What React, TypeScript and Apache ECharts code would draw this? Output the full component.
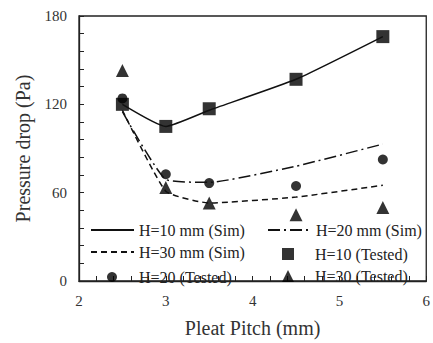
import React, { useEffect, useRef } from 'react';
import * as echarts from 'echarts';

const pitch = [2.5, 3, 3.5, 4.5, 5.5];
const sim10 = [120, 105, 116, 137, 166];
const sim20 = [115, 69, 67, 78, 93];
const sim30 = [116, 61, 53, 57, 65];
const test10 = [120, 105, 117, 137, 166];
const test20 = [124, 72.5, 66.5, 64.5, 82.5];
const test30 = [143, 63.5, 53, 45, 50];

const names = [
  'H=10 mm (Sim)',
  'H=20 mm (Sim)',
  'H=30 mm (Sim)',
  'H=10 (Tested)',
  'H=20 (Tested)',
  'H=30 (Tested)',
];

const FONT = '"Liberation Serif", "DejaVu Serif", serif';
const INK = '#111';

const pts = (ys: number[]) => pitch.map((x, i) => [x, ys[i]]);

export default function App() {
  const ref = useRef<HTMLDivElement>(null);
  useEffect(() => {
    if (!ref.current) return;
    const chart = echarts.init(ref.current, undefined, { renderer: 'svg' });
    const lineLegend = (name: string, left: number, top: number) => ({
      data: [name],
      left,
      top,
      padding: 0,
      itemWidth: 43,
      itemHeight: 14,
      itemGap: 0,
      itemStyle: { color: 'rgba(0,0,0,0)', borderColor: 'rgba(0,0,0,0)', borderWidth: 0 },
      textStyle: { fontFamily: FONT, fontSize: 16, color: '#222' },
      selectedMode: false,
    });
    const symLegend = (name: string, cx: number, top: number, size: number, textX: number) => ({
      data: [name],
      left: cx - size / 2,
      top,
      padding: 0,
      itemWidth: size,
      itemHeight: size,
      itemGap: 0,
      textStyle: {
        fontFamily: FONT,
        fontSize: 16,
        color: '#222',
        padding: [0, 0, 0, textX - (cx + size / 2 + 5)],
      },
      selectedMode: false,
    });
    const axisCommon = {
      axisLine: { show: true, lineStyle: { color: '#222', width: 1.3 } },
      axisTick: { show: true, inside: true, length: 5, lineStyle: { color: '#222', width: 1 } },
      minorTick: { show: true, splitNumber: 5, length: 5, lineStyle: { color: '#222', width: 1 } },
      splitLine: { show: false },
      minorSplitLine: { show: false },
      axisLabel: { fontFamily: FONT, fontSize: 15, color: '#333', margin: 12 },
      nameLocation: 'middle' as const,
      nameTextStyle: { fontFamily: FONT, fontSize: 20, color: '#333' },
    };
    chart.setOption({
      animation: false,
      backgroundColor: '#fff',
      grid: {
        left: 79,
        right: 6,
        top: 16,
        bottom: 58,
        show: true,
        borderColor: '#222',
        borderWidth: 1.3,
        backgroundColor: 'transparent',
      },
      legend: [
        lineLegend(names[0], 90, 222),
        lineLegend(names[1], 267, 222),
        lineLegend(names[2], 90, 244),
        symLegend(names[3], 288, 246, 12, 315),
        symLegend(names[4], 112, 269, 10, 139),
        symLegend(names[5], 288, 268, 12, 315),
      ],
      xAxis: {
        type: 'value',
        min: 2,
        max: 6,
        interval: 1,
        name: 'Pleat Pitch (mm)',
        nameGap: 37,
        ...axisCommon,
      },
      yAxis: {
        type: 'value',
        min: 0,
        max: 180,
        interval: 60,
        name: 'Pressure drop (Pa)',
        nameGap: 46,
        ...axisCommon,
      },
      series: [
        {
          name: names[0],
          type: 'line',
          data: pts(sim10),
          symbol: 'none',
          smooth: 0.15,
          lineStyle: { color: INK, width: 1.5, type: 'solid' },
          itemStyle: { color: INK },
        },
        {
          name: names[1],
          type: 'line',
          data: pts(sim20),
          symbol: 'none',
          smooth: 0.15,
          lineStyle: { color: INK, width: 1.5, type: [12, 4, 2, 4] },
          itemStyle: { color: INK },
        },
        {
          name: names[2],
          type: 'line',
          data: pts(sim30),
          symbol: 'none',
          smooth: 0.15,
          lineStyle: { color: INK, width: 1.5, type: [6, 4] },
          itemStyle: { color: INK },
        },
        {
          name: names[3],
          type: 'scatter',
          data: pts(test10),
          symbol: 'rect',
          symbolSize: 13,
          itemStyle: { color: '#000' },
        },
        {
          name: names[4],
          type: 'scatter',
          data: pts(test20),
          symbol: 'circle',
          symbolSize: 10,
          itemStyle: { color: '#000' },
        },
        {
          name: names[5],
          type: 'scatter',
          data: pts(test30),
          symbol: 'triangle',
          symbolSize: 13,
          itemStyle: { color: '#000' },
        },
      ],
    });
    return () => chart.dispose();
  }, []);
  return (
    <div
      ref={ref}
      style={{ position: 'absolute', left: 0, top: 0, width: 433, height: 343 }}
    />
  );
}
